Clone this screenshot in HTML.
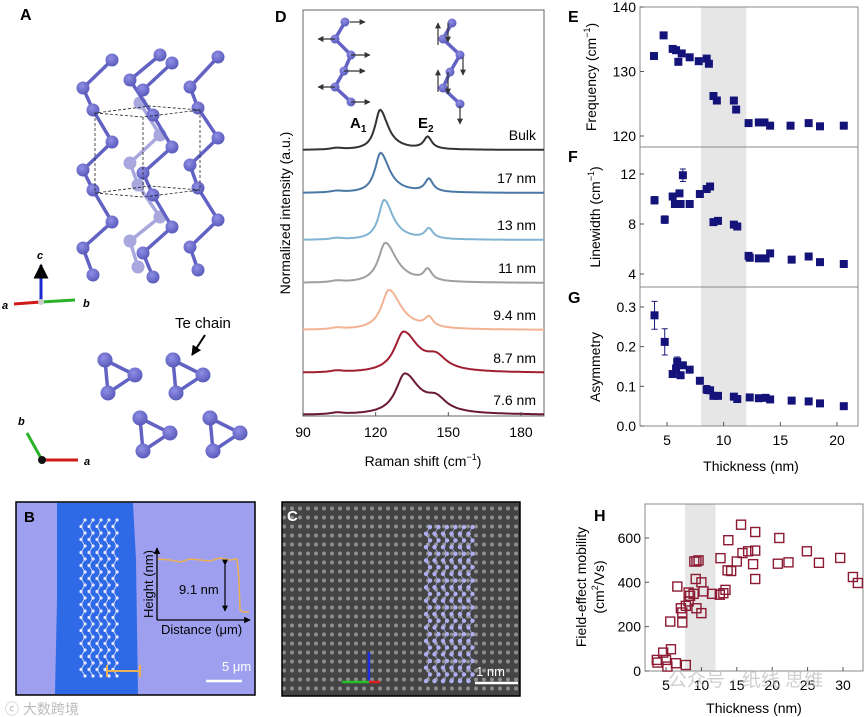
<!DOCTYPE html>
<html><head><meta charset="utf-8">
<style>
html,body{margin:0;padding:0;background:#fff;}
svg{display:block;font-family:"Liberation Sans","Noto Sans CJK SC",sans-serif;}
</style></head>
<body>
<svg id="fig" width="866" height="717" viewBox="0 0 866 717" xmlns="http://www.w3.org/2000/svg">
<defs>
<marker id="ah" viewBox="0 0 10 10" refX="9" refY="5" markerWidth="5" markerHeight="5" orient="auto"><path d="M0,0L10,5L0,10z" fill="#000"/></marker>
<marker id="ahg" viewBox="0 0 10 10" refX="9" refY="5" markerWidth="5" markerHeight="5" orient="auto"><path d="M0,0L10,5L0,10z" fill="#333"/></marker>
<pattern id="hrtem" width="8" height="9" patternUnits="userSpaceOnUse"><rect width="8" height="9" fill="#444"/><circle cx="4" cy="4.5" r="2" fill="#8e8e8e"/></pattern>
<radialGradient id="atomg" cx="0.4" cy="0.35" r="0.7"><stop offset="0" stop-color="#8f8fe6"/><stop offset="1" stop-color="#5656b8"/></radialGradient>
</defs>

<!-- Panel A -->
<g id="panelA">
<text x="20" y="20" font-size="16" font-weight="bold">A</text>
<g id="latticeTop"></g>
<g fill="none" stroke="#222" stroke-dasharray="3,2" stroke-width="0.8">
<path d="M95,113 L143,117 L200,110 L150,106 Z"/><path d="M95,193 L143,197 L200,190 L150,186 Z"/>
<path d="M95,113V193M143,117V197M200,110V190"/>
</g>
<g>
<line x1="41" y1="302" x2="41" y2="265" stroke="#1a2ad0" stroke-width="3" marker-end="url(#ah)"/>
<line x1="41" y1="302" x2="75" y2="300" stroke="#2bb22b" stroke-width="3"/>
<line x1="41" y1="302" x2="14" y2="304" stroke="#d01a1a" stroke-width="3"/>
<circle cx="41" cy="302" r="3" fill="#ccc"/>
<text x="37" y="259" font-size="11" font-style="italic" font-weight="bold">c</text>
<text x="83" y="307" font-size="11" font-style="italic" font-weight="bold">b</text>
<text x="2" y="309" font-size="11" font-style="italic" font-weight="bold">a</text>
</g>
<text x="175" y="328" font-size="15">Te chain</text>
<line x1="205" y1="335" x2="192" y2="355" stroke="#000" stroke-width="2" marker-end="url(#ah)"/>
<g id="latticeBottom"></g>
<g>
<line x1="42" y1="460" x2="78" y2="460" stroke="#d01a1a" stroke-width="3"/>
<line x1="42" y1="460" x2="27" y2="433" stroke="#2bb22b" stroke-width="3"/>
<circle cx="42" cy="460" r="4" fill="#111"/>
<text x="18" y="425" font-size="11" font-style="italic" font-weight="bold">b</text>
<text x="84" y="465" font-size="11" font-style="italic" font-weight="bold">a</text>
</g>
</g>

<!-- Panel D -->
<g id="panelD">
<text x="275" y="22" font-size="16" font-weight="bold">D</text>
<rect x="303" y="10" width="241" height="406" fill="none" stroke="#666" stroke-width="1"/>
<g id="dSpectra"></g><g id="dAxis"></g>
<text x="350" y="128" font-size="15" font-weight="bold">A<tspan font-size="10" dy="4">1</tspan></text>
<text x="418" y="128" font-size="15" font-weight="bold">E<tspan font-size="10" dy="4">2</tspan></text>
<text transform="translate(290,213) rotate(-90)" text-anchor="middle" font-size="14">Normalized intensity (a.u.)</text>
<text x="423" y="466" text-anchor="middle" font-size="14">Raman shift (cm<tspan font-size="9" dy="-6">−1</tspan><tspan dy="6">)</tspan></text>
<g id="dInsets"></g>
</g>

<!-- Panels E F G -->
<g id="panelEFG">
<text x="568" y="22" font-size="16" font-weight="bold">E</text>
<text x="568" y="162" font-size="16" font-weight="bold">F</text>
<text x="568" y="303" font-size="16" font-weight="bold">G</text>
<g id="efg"></g>
<text transform="translate(596,77) rotate(-90)" text-anchor="middle" font-size="14">Frequency (cm<tspan font-size="9" dy="-6">−1</tspan><tspan dy="6">)</tspan></text>
<text transform="translate(600,217) rotate(-90)" text-anchor="middle" font-size="14">Linewidth (cm<tspan font-size="9" dy="-6">−1</tspan><tspan dy="6">)</tspan></text>
<text transform="translate(600,367) rotate(-90)" text-anchor="middle" font-size="14">Asymmetry</text>
<text x="751" y="471" text-anchor="middle" font-size="14">Thickness (nm)</text>
</g>

<!-- Panel B -->
<g id="panelB">
<rect x="16" y="502" width="239" height="193" fill="#9ea0ef" stroke="#000" stroke-width="1.5"/>
<path d="M57,503 L133,503 L136,560 L138,694 L55,694 L57,600Z" fill="#2f6ae6"/>
<g id="bChains"></g>
<text x="24" y="522" font-size="15" font-weight="bold">B</text>
<line x1="157" y1="620" x2="157" y2="548" stroke="#000" stroke-width="1.3" marker-end="url(#ah)"/>
<line x1="157" y1="620" x2="250" y2="620" stroke="#000" stroke-width="1.3" marker-end="url(#ah)"/>
<polyline points="158,559 170,560 180,562 190,559 200,560 210,561 220,558 230,560 237,559 239,580 240,610 243,612 249,612" fill="none" stroke="#eab054" stroke-width="1.5"/>
<line x1="225" y1="565" x2="225" y2="611" stroke="#000" stroke-width="1.2" marker-end="url(#ah)" marker-start="url(#ah)"/>
<text x="179" y="594" font-size="13">9.1 nm</text>
<text transform="translate(153,584) rotate(-90)" text-anchor="middle" font-size="13">Height (nm)</text>
<text x="161" y="634" font-size="13">Distance (μm)</text>
<line x1="107" y1="671" x2="140" y2="671" stroke="#eab054" stroke-width="2"/>
<line x1="107" y1="665" x2="107" y2="677" stroke="#eab054" stroke-width="2"/><line x1="140" y1="665" x2="140" y2="677" stroke="#eab054" stroke-width="2"/>
<text x="222" y="671" font-size="13" fill="#fff">5 μm</text>
<line x1="206" y1="681" x2="242" y2="681" stroke="#fff" stroke-width="2.5"/>
<text x="5" y="714" font-size="14" fill="#bbb">ⓒ 大数跨境</text>
</g>

<!-- Panel C -->
<g id="panelC">
<rect x="282" y="502" width="238" height="194" fill="url(#hrtem)" stroke="#000" stroke-width="1.5"/>
<g id="cChains"></g>
<text x="287" y="521" font-size="15" font-weight="bold" fill="#fff">C</text>
<line x1="369" y1="682" x2="369" y2="652" stroke="#2030e0" stroke-width="2.5"/>
<line x1="369" y1="682" x2="342" y2="682" stroke="#22c022" stroke-width="2.5"/>
<line x1="369" y1="682" x2="380" y2="682" stroke="#e02020" stroke-width="2.5"/>
<text x="505" y="676" font-size="13" fill="#fff" text-anchor="end">1 nm</text>
<line x1="475" y1="683" x2="518" y2="683" stroke="#fff" stroke-width="2.5"/>
</g>

<!-- Panel H -->
<g id="panelH">
<g id="hplot"></g>
<text x="594" y="521" font-size="16" font-weight="bold">H</text>
<text transform="translate(586,587) rotate(-90)" text-anchor="middle" font-size="14">Field-effect mobility</text>
<text transform="translate(604,587) rotate(-90)" text-anchor="middle" font-size="14">(cm<tspan font-size="9" dy="-6">2</tspan><tspan dy="6">/Vs)</tspan></text>
<text x="754" y="713" text-anchor="middle" font-size="14">Thickness (nm)</text>
<text x="668" y="686" font-size="19" fill="#bbb" opacity="0.7">公众号 · 纸线 思维</text>
</g>
</svg>
<script>
const NS="http://www.w3.org/2000/svg";
function mk(tag,attrs,parent){const e=document.createElementNS(NS,tag);for(const k in attrs)e.setAttribute(k,attrs[k]);parent.appendChild(e);return e;}

// ---------- Data: panel E/F/G ----------
const eThickness=[3.85,4.7,5.5,5.8,6.0,6.3,7.0,7.8,8.5,8.7,9.1,9.4,10.9,11.1,12.2,13.1,13.6,14.1,15.9,17.5,18.5,20.6];
const eFrequency=[132.4,135.6,133.5,133.3,131.5,132.8,132.2,131.6,132.0,131.2,126.2,125.5,125.5,124.1,122.0,122.1,122.1,121.6,121.6,122.0,121.5,121.6];
const fThickness=[3.9,4.8,5.5,5.7,6.1,6.2,6.4,7.0,7.9,8.5,8.8,9.1,9.5,10.9,11.2,12.2,12.3,13.1,13.7,14.1,16.0,17.5,18.5,20.6];
const fLinewidth=[9.9,8.35,10.2,9.6,10.45,9.6,11.9,9.6,10.4,10.8,11.0,8.15,8.25,7.95,7.8,5.45,5.3,5.25,5.25,5.65,5.15,5.4,4.95,4.8];
const fError=[0.3,0.3,0,0.2,0,0,0.5,0,0.15,0,0,0,0,0,0,0,0,0,0,0,0,0,0,0];
const gThickness=[3.9,4.8,5.5,5.8,5.9,6.2,6.4,7.0,7.9,8.5,8.8,9.1,9.5,10.9,11.2,12.3,13.1,13.7,14.1,16.0,17.5,18.5,20.6];
const gAsymmetry=[0.279,0.212,0.131,0.145,0.162,0.128,0.153,0.142,0.114,0.092,0.09,0.076,0.076,0.074,0.068,0.072,0.07,0.071,0.067,0.064,0.062,0.057,0.05];
const gError=[0.035,0.033,0,0,0.012,0,0.008,0,0,0.01,0,0,0,0,0,0,0,0,0,0,0,0,0];
const efgXTicks=[5,10,15,20];
const eYTicks=[120,130,140];
const fYTicks=[4,8,12];
const gYTicks=["0.0","0.1","0.2","0.3"];
const shadeRange=[8,12];

// ---------- Data: panel H ----------
const hThickness=[3.7,3.8,4.6,5.0,5.2,5.7,6.4,7.8,5.6,6.6,7.3,7.1,7.3,7.8,8.2,8.4,8.9,8.2,9.3,9.0,9.3,9.6,9.2,10.0,10.0,10.3,11.5,12.6,13.1,13.4,12.7,13.8,13.7,14.2,15.0,15.6,15.8,16.6,17.3,17.6,17.6,17.6,20.8,21.0,22.3,24.9,26.6,29.6,31.4,32.1];
const hMobility=[50,38,83,50,20,98,35,27,223,381,219,283,264,294,314,339,348,354,283,494,494,499,415,400,261,359,348,344,351,366,509,590,454,451,494,660,532,540,482,543,627,415,484,600,490,540,488,510,424,397];
const hXTicks=[5,10,15,20,25,30];
const hYTicks=[0,200,400,600];
const hShade=[7.7,12];

// ---------- Data: panel D ----------
const dLabels=["Bulk","17 nm","13 nm","11 nm","9.4 nm","8.7 nm","7.6 nm"];
const dA1Pos=[121.8,122,123.5,124,125.5,131.5,132];
const dA1Width=[5,5.5,5.5,7,7.5,9,9];
const dA1Amp=[1.0,1.0,1.0,1.0,1.0,1.0,1.0];
const dE2Pos=[141.5,142,142,141.5,142,145,145];
const dE2Amp=[0.3,0.32,0.25,0.28,0.24,0.3,0.3];
const dColors=["#333333","#4a78a6","#80b4d2","#9f9f9f","#f2b394","#a21e32","#6b1a33"];
const dXTicks=[90,120,150,180];

// ---------- Panel E/F/G ----------
const efg=document.getElementById('efg');
const XL=640,XR=858;
const xT=v=>667+(v-5)*11.333;
const eY=v=>136-(v-120)*6.45;
const fY=v=>274-(v-4)*12.5;
const gY=v=>426-v*396.7;
mk('rect',{x:xT(shadeRange[0]),y:7,width:xT(shadeRange[1])-xT(shadeRange[0]),height:419,fill:'#e6e6e6'},efg);
[[7,147],[147,287],[287,426]].forEach((r,i)=>{
  const f=mk('rect',{x:XL,y:r[0],width:XR-XL,height:r[1]-r[0],fill:'none',stroke:'#888','stroke-width':1},efg);
  
  
});
function yticks(vals,fn,parent,name){vals.forEach(v=>{const y=fn(parseFloat(v));
  mk('line',{x1:XL,x2:XL+4,y1:y,y2:y,stroke:'#555'},parent);
  const t=mk('text',{x:XL-4,y:y+5,'text-anchor':'end','font-size':14},parent);t.textContent=v;
  
  });}
yticks(eYTicks,eY,efg,'y-tick-label-e');yticks(fYTicks,fY,efg,'y-tick-label-f');yticks(gYTicks,gY,efg,'y-tick-label-g');
efgXTicks.forEach(v=>{const x=xT(v);mk('line',{x1:x,x2:x,y1:426,y2:422,stroke:'#555'},efg);
  const t=mk('text',{x:x,y:445,'text-anchor':'middle','font-size':14},efg);t.textContent=v;
  
  });
function squares(xs,ys,err,yf,name){xs.forEach((x,i)=>{const cx=xT(x),cy=yf(ys[i]);
  if(err&&err[i]>0){const y1=yf(ys[i]+err[i]),y2=yf(ys[i]-err[i]);
    mk('path',{d:`M${cx},${y1}V${y2}M${cx-3},${y1}H${cx+3}M${cx-3},${y2}H${cx+3}`,stroke:'#1a1a7a','stroke-width':1,fill:'none'},efg);}
  const r=mk('rect',{x:cx-4,y:cy-4,width:8,height:8,fill:'#14137a'},efg);
  
  });}
squares(eThickness,eFrequency,null,eY,'frequency-point');
squares(fThickness,fLinewidth,fError,fY,'linewidth-point');
squares(gThickness,gAsymmetry,gError,gY,'asymmetry-point');

// ---------- Panel H ----------
const hp=document.getElementById('hplot');
const hx=v=>666+(v-5)*7.08, hy=v=>671-v*0.2217;
mk('rect',{x:hx(hShade[0]),y:504,width:hx(hShade[1])-hx(hShade[0]),height:167,fill:'#e6e6e6'},hp);
const hf=mk('rect',{x:645,y:504,width:218,height:167,fill:'none',stroke:'#888'},hp);


hYTicks.forEach(v=>{const y=hy(v);mk('line',{x1:645,x2:649,y1:y,y2:y,stroke:'#555'},hp);
  const t=mk('text',{x:641,y:y+5,'text-anchor':'end','font-size':14},hp);t.textContent=v;
  
  });
hXTicks.forEach(v=>{const x=hx(v);mk('line',{x1:x,x2:x,y1:671,y2:667,stroke:'#555'},hp);
  const t=mk('text',{x:x,y:690,'text-anchor':'middle','font-size':14},hp);t.textContent=v;
  
  });
hThickness.forEach((x,i)=>{const r=mk('rect',{x:hx(x)-4.5,y:hy(hMobility[i])-4.5,width:9,height:9,fill:'none',stroke:'#8c1a32','stroke-width':1.4},hp);
  
  });

// ---------- Panel D ----------
const dS=document.getElementById('dSpectra'),dA=document.getElementById('dAxis');
const dx=v=>303+(v-90)*2.422;
const dBase=[150,193,240,283,330,373,415];
const dScale=40;
dXTicks.forEach(v=>{const x=dx(v);mk('line',{x1:x,x2:x,y1:416,y2:412,stroke:'#555'},dA);
  const t=mk('text',{x:x,y:437,'text-anchor':'middle','font-size':14},dA);t.textContent=v;
  
  });
const lor=(x,p,w)=>1/(1+Math.pow((x-p)/(w/2),2));
dLabels.forEach((lab,i)=>{
  let d='';
  for(let x=90;x<=189.5;x+=0.5){
    const asym=x>dA1Pos[i]?1.6:1;
    let v=dA1Amp[i]*lor(x,dA1Pos[i],dA1Width[i]*asym)+dE2Amp[i]*lor(x,dE2Pos[i],i>=5?10:4)+0.04*lor(x,104,6);
    const px=dx(x),py=dBase[i]-v*dScale;
    d+=(d?'L':'M')+px.toFixed(1)+','+py.toFixed(1);
  }
  const p=mk('path',{d:d,fill:'none',stroke:dColors[i],'stroke-width':2},dS);
  
  
  const t=mk('text',{x:536,y:dBase[i]-10,'text-anchor':'end','font-size':14},dS);t.textContent=lab;
  
  
});

// ---------- Lattice drawings ----------
const AT='url(#atomg)',BT='#6262c4',ATL='#a8a8de';
function chain(pts,parent,col,r){r=r||6.5;const bc=col===AT?BT:col;let d='';pts.forEach((p,i)=>d+=(i?'L':'M')+p[0]+','+p[1]);
  mk('path',{d:d,fill:'none',stroke:bc,'stroke-width':3.5},parent);
  pts.forEach(p=>mk('circle',{cx:p[0],cy:p[1],r:r,fill:col},parent));}
const lt=document.getElementById('latticeTop');
chain([[140,103],[160,135],[130,163],[138,185],[160,217],[130,241],[138,267]],lt,ATL);
chain([[112,60],[83,88],[93,110],[112,142],[83,170],[93,190],[112,222],[83,248],[93,275]],lt,AT);
chain([[160,55],[130,80],[153,115],[172,147],[143,173],[153,195],[172,227],[143,253],[153,277]],lt,AT);
chain([[172,63],[143,90]],lt,AT);
chain([[218,57],[190,87],[198,108],[218,138],[190,165],[198,188],[218,220],[190,247],[198,270]],lt,AT);
const lb=document.getElementById('latticeBottom');
[[105,360],[173,360],[140,418],[210,418]].forEach(c=>{
  chain([[c[0],c[1]],[c[0]+30,c[1]+15],[c[0]+3,c[1]+33],[c[0],c[1]]],lb,AT,7.5);});
const ins=document.getElementById('dInsets');
chain([[345,22],[335,39],[351,55],[344,71],[335,87],[351,102]],ins,AT,4.5);
chain([[452,23],[443,39],[460,55],[450,72],[443,88],[460,104]],ins,AT,4.5);
[[350,22,365],[335,39,318],[351,55,370],[344,71,365],[335,87,318],[351,102,370]].forEach(a=>
  mk('line',{x1:a[0],y1:a[1],x2:a[2],y2:a[1],stroke:'#333','stroke-width':1.2,'marker-end':'url(#ahg)'},ins));
[[438,45,23],[448,23,42],[463,57,75],[438,92,70],[448,72,94],[460,106,124]].forEach(a=>
  mk('line',{x1:a[0],y1:a[1],x2:a[0],y2:a[2],stroke:'#333','stroke-width':1.2,'marker-end':'url(#ahg)'},ins));
function zig(parent,x0,y0,cols,rows,dxs,dys,col,r){for(let c=0;c<cols;c++){let d='';
  for(let k=0;k<rows;k++){const x=x0+c*dxs+(k%2?-4:0),y=y0+k*dys;d+=(k?'L':'M')+x+','+y;mk('circle',{cx:x,cy:y,r:r,fill:col},parent);}
  mk('path',{d:d,fill:'none',stroke:col,'stroke-width':0.8},parent);}}
zig(document.getElementById('bChains'),85,520,5,25,8,6.5,'#e8e8ff',1.6);
zig(document.getElementById('cChains'),430,527,6,24,8.5,6.7,'#aeaef0',2.2);
</script>
</body></html>
